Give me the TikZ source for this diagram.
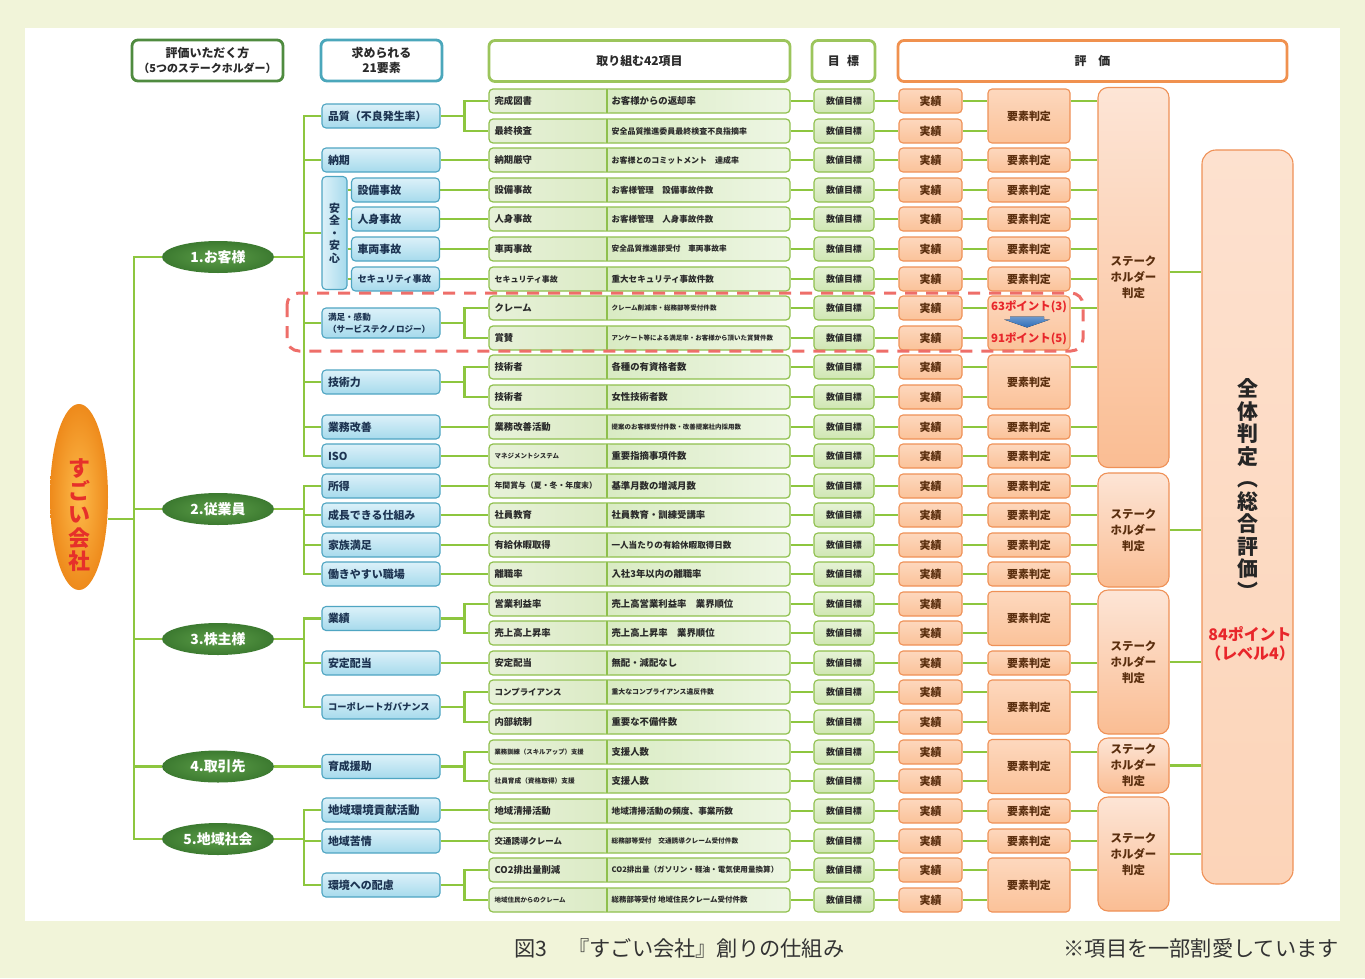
\documentclass[tikz,border=0pt]{standalone}
\usepackage{fontspec}
\setmainfont{Noto Sans CJK JP}
\usetikzlibrary{shapes.geometric,calc}
\pgfdeclarelayer{back}
\pgfdeclarelayer{lines}
\pgfsetlayers{back,lines,main}
\definecolor{lnG}{HTML}{8DC63F}
\definecolor{bgO}{HTML}{F1F4D9}
\definecolor{hdG}{HTML}{4F8B3F}
\definecolor{hdT}{HTML}{4BA7BB}
\definecolor{hdL}{HTML}{9CC55C}
\definecolor{hdO}{HTML}{F0914F}
\definecolor{elB}{HTML}{4FA5C2}
\definecolor{elTop}{HTML}{DCF1F9}
\definecolor{elBot}{HTML}{A6DAEC}
\definecolor{elTx}{HTML}{1D3452}
\definecolor{itB}{HTML}{8FC04D}
\definecolor{itA}{HTML}{E7F1D9}
\definecolor{itD}{HTML}{C9E1A6}
\definecolor{itE}{HTML}{D9EBC3}
\definecolor{itL}{HTML}{EEF6E4}
\definecolor{itTx}{HTML}{2A2A2A}
\definecolor{tgTop}{HTML}{E6F2D6}
\definecolor{tgBot}{HTML}{CFE6B2}
\definecolor{orB}{HTML}{EF9157}
\definecolor{orTop}{HTML}{FDD8BE}
\definecolor{orBot}{HTML}{FBC299}
\definecolor{orTx}{HTML}{5A2E0E}
\definecolor{shTop}{HTML}{FDE5D6}
\definecolor{shBot}{HTML}{FABD93}
\definecolor{totTop}{HTML}{FDE1CF}
\definecolor{totBot}{HTML}{FCD4B8}
\definecolor{stIn}{HTML}{5C9D48}
\definecolor{stOut}{HTML}{3C7A30}
\definecolor{sgIn}{HTML}{FDBA4A}
\definecolor{sgOut}{HTML}{EE8A1B}
\definecolor{sgTx}{HTML}{E6302A}
\definecolor{rdT}{HTML}{E8262B}
\definecolor{dashC}{HTML}{EE6E69}
\definecolor{arrB}{HTML}{2E6DB8}
\definecolor{capTx}{HTML}{333333}
\newcommand\fsz[1]{\fontsize{#1}{#1}\selectfont}
\tikzset{
 conn/.style={draw=lnG, line width=2.5bp},
 hdr/.style={draw, line width=2.8bp, rounded corners=6bp, fill=white, text=itTx, font=\bfseries\fontsize{12}{15}\selectfont, align=center, minimum height=41bp, inner sep=0},
 elbox/.style={draw=elB, line width=1.1bp, rounded corners=4bp, top color=elTop, bottom color=elBot, text=elTx, font=\bfseries\fsz{11}, minimum height=24bp, inner xsep=6bp, inner ysep=0, text width=106bp, align=left},
 itembox/.style={draw=itB, line width=1.2bp, rounded corners=4bp, minimum width=301bp, minimum height=24bp, inner sep=0,
   path picture={
     \shade[left color=itA, right color=itD] (path picture bounding box.north west) rectangle ([xshift=118bp]path picture bounding box.south west);
     \shade[left color=itE, right color=itL] ([xshift=118bp]path picture bounding box.north west) rectangle (path picture bounding box.south east);
     \draw[itB, line width=1.2bp] ([xshift=118bp]path picture bounding box.north west) -- ([xshift=118bp]path picture bounding box.south west);
   }},
 itxt/.style={font=\bfseries\fsz{9.4}, text=itTx, inner sep=0, anchor=west},
 tgbox/.style={draw=itB, line width=1.1bp, rounded corners=4bp, top color=tgTop, bottom color=tgBot, minimum width=60bp, minimum height=24bp, inner sep=0, font=\bfseries\fsz{9}, text=itTx},
 acbox/.style={draw=orB, line width=1.1bp, rounded corners=4bp, top color=orTop, bottom color=orBot, minimum width=63bp, minimum height=24bp, inner sep=0, font=\bfseries\fsz{11}, text=orTx},
 evbox/.style={acbox, minimum width=82bp},
 shbox/.style={draw=orB, line width=1.1bp, rounded corners=10bp, top color=shTop, bottom color=shBot, minimum width=71bp, inner sep=0, font=\bfseries\fontsize{11.5}{16}\selectfont, text=orTx, align=center},
 stk/.style={ellipse, inner color=stIn, outer color=stOut, minimum width=112bp, minimum height=32bp, inner sep=0, text=white, font=\bfseries\fsz{14}},
}
\newcommand\mkrow[4]{%
 \node[itembox] (it#1) at (639.5,#2) {};
 \node[itxt] (itl#1) at ([xshift=6bp]it#1.west) {#3};
 \node[itxt] (itr#1) at ([xshift=123bp]it#1.west) {#4};
 \node[tgbox] (tg#1) at (844,#2) {数値目標};
 \node[acbox] (ac#1) at (930.5,#2) {実績};
 \begin{pgfonlayer}{lines}
 \draw[conn] (it#1.east) -- (tg#1.west);
 \draw[conn] (tg#1.east) -- (ac#1.west);
 \end{pgfonlayer}
}
\begin{document}
\begin{tikzpicture}[x=1bp,y=-1bp]
\useasboundingbox (0,0) rectangle (1365,978);
\begin{pgfonlayer}{back}
\fill[bgO] (0,0) rectangle (1365,978);
\fill[white] (25,28) rectangle (1340,921);
\end{pgfonlayer}

% headers
\node[hdr, draw=hdG, minimum width=151bp] (h1) at (207.5,60.5) {評価いただく方\\{\fsz{11}（5つのステークホルダー）}};
\node[hdr, draw=hdT, minimum width=121bp] (h2) at (381.5,60.5) {求められる\\21要素};
\node[hdr, draw=hdL, minimum width=301bp] (h3) at (639.5,61) {取り組む42項目};
\node[hdr, draw=hdL, minimum width=63bp] (h4) at (843.5,61) {目\hspace{0.6em}標};
\node[hdr, draw=hdO, minimum width=389bp] (h5) at (1092.5,61) {評\hspace{1em}価};

% rows
\mkrow{1}{101}{完成図書}{お客様からの返却率}
\mkrow{2}{131}{最終検査}{\fsz{8}安全品質推進委員最終検査不良指摘率}
\mkrow{3}{160}{納期厳守}{\fsz{8}お客様とのコミットメント　達成率}
\mkrow{4}{190}{設備事故}{\fsz{8.5}お客様管理　設備事故件数}
\mkrow{5}{219}{人身事故}{\fsz{8.5}お客様管理　人身事故件数}
\mkrow{6}{249}{車両事故}{\fsz{7.7}安全品質推進部受付　車両事故率}
\mkrow{7}{279}{\fsz{8}セキュリティ事故}{\fsz{8.6}重大セキュリティ事故件数}
\mkrow{8}{308}{クレーム}{\fsz{6.6}クレーム削減率・総務部等受付件数}
\mkrow{9}{338}{賞賛}{\fsz{6.5}アンケート等による満足率・お客様から頂いた賞賛件数}
\mkrow{10}{367}{技術者}{各種の有資格者数}
\mkrow{11}{397}{技術者}{女性技術者数}
\mkrow{12}{427}{業務改善活動}{\fsz{6.5}提案のお客様受付件数・改善提案社内採用数}
\mkrow{13}{456}{\fsz{6.5}マネジメントシステム}{重要指摘事項件数}
\mkrow{14}{486}{\fsz{7.9}年間賞与（夏・冬・年度末）}{基準月数の増減月数}
\mkrow{15}{515}{社員教育}{社員教育・訓練受講率}
\mkrow{16}{545}{有給休暇取得}{\fsz{8.6}一人当たりの有給休暇取得日数}
\mkrow{17}{574}{離職率}{入社3年以内の離職率}
\mkrow{18}{604}{営業利益率}{売上高営業利益率　業界順位}
\mkrow{19}{633}{売上高上昇率}{売上高上昇率　業界順位}
\mkrow{20}{663}{安定配当}{無配・減配なし}
\mkrow{21}{692}{\fsz{8.5}コンプライアンス}{\fsz{6.9}重大なコンプライアンス違反件数}
\mkrow{22}{722}{内部統制}{重要な不備件数}
\mkrow{23}{752}{\fsz{6.4}業務訓練（スキルアップ）支援}{支援人数}
\mkrow{24}{781}{\fsz{6.7}社員育成（資格取得）支援}{支援人数}
\mkrow{25}{811}{地域清掃活動}{\fsz{8.7}地域清掃活動の頻度、事業所数}
\mkrow{26}{841}{\fsz{8.5}交通誘導クレーム}{\fsz{6.7}総務部等受付　交通誘導クレーム受付件数}
\mkrow{27}{870}{CO2排出量削減}{\fsz{7.6}CO2排出量（ガソリン・軽油・電気使用量換算）}
\mkrow{28}{900}{\fsz{6.5}地域住民からのクレーム}{\fsz{7.5}総務部等受付 地域住民クレーム受付件数}

% element judgement boxes
\node[evbox, minimum height=54bp] (ev1) at (1029,116) {要素判定};
\node[evbox] (ev3) at (1029,160) {要素判定};
\node[evbox] (ev4) at (1029,190) {要素判定};
\node[evbox] (ev5) at (1029,219) {要素判定};
\node[evbox] (ev6) at (1029,249) {要素判定};
\node[evbox] (ev7) at (1029,279) {要素判定};
\node[evbox, minimum height=54bp] (ev8) at (1029,323) {};
\node[text=rdT, font=\bfseries\fsz{11.5}, inner sep=0] (p63) at (1029,307) {63ポイント(3)};
\node[text=rdT, font=\bfseries\fsz{11.5}, inner sep=0] (p91) at (1029,339) {91ポイント(5)};
\fill[top color=arrB!70!white, bottom color=arrB] (1010,316.5) -- (1044,316.5) -- (1044,319.5) -- (1050,319.5) -- (1027,327.5) -- (1004,319.5) -- (1010,319.5) -- cycle;
\node[evbox, minimum height=54bp] (ev10) at (1029,382) {要素判定};
\node[evbox] (ev12) at (1029,427) {要素判定};
\node[evbox] (ev13) at (1029,456) {要素判定};
\node[evbox] (ev14) at (1029,486) {要素判定};
\node[evbox] (ev15) at (1029,515) {要素判定};
\node[evbox] (ev16) at (1029,545) {要素判定};
\node[evbox] (ev17) at (1029,574) {要素判定};
\node[evbox, minimum height=54bp] (ev18) at (1029,618.5) {要素判定};
\node[evbox] (ev20) at (1029,663) {要素判定};
\node[evbox, minimum height=54bp] (ev21) at (1029,707) {要素判定};
\node[evbox, minimum height=54bp] (ev23) at (1029,766.5) {要素判定};
\node[evbox] (ev25) at (1029,811) {要素判定};
\node[evbox] (ev26) at (1029,841) {要素判定};
\node[evbox, minimum height=54bp] (ev27) at (1029,885) {要素判定};

% stakeholder judgement boxes
\node[shbox, minimum height=380bp] (sh1) at (1133.5,277.5) {ステーク\\ホルダー\\判定};
\node[shbox, minimum height=114bp] (sh2) at (1133.5,530) {ステーク\\ホルダー\\判定};
\node[shbox, minimum height=144bp] (sh3) at (1133.5,662) {ステーク\\ホルダー\\判定};
\node[shbox, minimum height=55bp] (sh4) at (1133.5,765.5) {ステーク\\ホルダー\\判定};
\node[shbox, minimum height=114bp] (sh5) at (1133.5,854) {ステーク\\ホルダー\\判定};

% total
\node[draw=orB, line width=1.1bp, rounded corners=14bp, top color=totTop, bottom color=totBot, minimum width=91bp, minimum height=734bp, inner sep=0] (tot) at (1247.5,517) {};
\node[text=black!85, font=\bfseries\fontsize{21}{22.6}\selectfont, align=center, inner sep=0] (totT) at (1248,489) {全\\体\\判\\定\\︵\\総\\合\\評\\価\\︶};
\node[text=rdT, font=\bfseries\fontsize{16}{19}\selectfont, align=center, inner sep=0] (totP) at (1250,644) {84ポイント\\（レベル4）};

% elements
\node[elbox] (el1) at (381,116) {品質（不良発生率）};
\node[elbox] (el2) at (381,160) {納期};
\node[draw=elB, line width=1.1bp, rounded corners=4bp, left color=elTop, right color=elBot, text=elTx, font=\bfseries\fontsize{11}{12.6}\selectfont, minimum width=25bp, minimum height=113bp, inner sep=0, align=center] (elS) at (334.5,233) {安\\全\\・\\安\\心};
\node[elbox, text width=76bp, inner xsep=6bp] (el3) at (395.5,190) {設備事故};
\node[elbox, text width=76bp, inner xsep=6bp] (el4) at (395.5,219) {人身事故};
\node[elbox, text width=76bp, inner xsep=6bp] (el5) at (395.5,249) {車両事故};
\node[elbox, text width=76bp, inner xsep=6bp, font=\bfseries\fsz{9.3}] (el6) at (395.5,279) {セキュリティ事故};
\node[elbox, minimum height=30bp, font=\bfseries\fontsize{8.6}{12.5}\selectfont] (el7) at (381,323) {満足・感動\\（サービステクノロジー）};
\node[elbox] (el8) at (381,382) {技術力};
\node[elbox] (el9) at (381,427) {業務改善};
\node[elbox] (el10) at (381,456) {ISO};
\node[elbox] (el11) at (381,486) {所得};
\node[elbox] (el12) at (381,515) {成長できる仕組み};
\node[elbox] (el13) at (381,545) {家族満足};
\node[elbox] (el14) at (381,574) {働きやすい職場};
\node[elbox] (el15) at (381,618.5) {業績};
\node[elbox] (el16) at (381,663) {安定配当};
\node[elbox, font=\bfseries\fsz{9.3}] (el17) at (381,707) {コーポレートガバナンス};
\node[elbox] (el18) at (381,766.5) {育成援助};
\node[elbox, font=\bfseries\fsz{11.5}] (el19) at (381,810) {地域環境貢献活動};
\node[elbox] (el20) at (381,841) {地域苦情};
\node[elbox] (el21) at (381,885) {環境への配慮};

% stakeholders
\node[stk] (st1) at (218,257) {1.お客様};
\node[stk] (st2) at (218,509) {2.従業員};
\node[stk] (st3) at (218,639) {3.株主様};
\node[stk] (st4) at (218,766.5) {4.取引先};
\node[stk] (st5) at (218,839) {5.地域社会};

% company
\node[ellipse, inner color=sgIn, outer color=sgOut, minimum width=58bp, minimum height=186bp, inner sep=0] (sg) at (79,497) {};
\node[text=sgTx, font=\bfseries\fontsize{22}{23.5}\selectfont, align=center, inner sep=0] (sgT) at (79,515) {す\\ご\\い\\会\\社};

% caption
\node[anchor=west, text=capTx, font=\fsz{21.3}, inner sep=0] (cap1) at (514,948) {図3　『すごい会社』創りの仕組み};
\node[anchor=east, text=capTx, font=\fsz{21.3}, inner sep=0] (cap2) at (1339,948) {※項目を一部割愛しています};

\begin{pgfonlayer}{lines}
% company to stakeholders
\coordinate (lt) at (134,519);
\draw[conn] (sg.east |- lt) -- (lt);
\draw[conn] (st1.west) -| (lt);
\draw[conn] (st5.west) -| (lt);
\foreach \s in {st2,st3,st4} \draw[conn] (\s.west) -- (\s.west -| lt);
% stakeholders to elements
\coordinate (t1) at (304,257);
\draw[conn] (st1.east) -- (t1);
\draw[conn] (el1.west) -| (t1);
\draw[conn] (el10.west) -| (t1);
\foreach \e in {el2,elS,el7,el8,el9} \draw[conn] (\e.west) -- (\e.west -| t1);
\coordinate (t2) at (304,509);
\draw[conn] (st2.east) -- (t2);
\draw[conn] (el11.west) -| (t2);
\draw[conn] (el14.west) -| (t2);
\foreach \e in {el12,el13} \draw[conn] (\e.west) -- (\e.west -| t2);
\coordinate (t3) at (304,639);
\draw[conn] (st3.east) -- (t3);
\draw[conn] (el15.west) -| (t3);
\draw[conn] (el17.west) -| (t3);
\draw[conn] (el16.west) -- (el16.west -| t3);
\draw[conn] (st4.east) -- (el18.west);
\coordinate (t5) at (304,839);
\draw[conn] (st5.east) -- (t5);
\draw[conn] (el19.west) -| (t5);
\draw[conn] (el21.west) -| (t5);
\draw[conn] (el20.west) -- (el20.west -| t5);
\foreach \e in {el3,el4,el5,el6} \draw[conn, line width=2bp] (\e.west -| elS.east) -- (\e.west);
% elements to items
\foreach \e/\i in {el2/3,el3/4,el4/5,el5/6,el6/7,el9/12,el10/13,el11/14,el12/15,el13/16,el14/17,el16/20,el19/25,el20/26}
  \draw[conn] (\e.east) -- (\e.east -| it\i.west);
\foreach \e/\a/\b in {el1/1/2,el7/8/9,el8/10/11,el15/18/19,el17/21/22,el18/23/24,el21/27/28} {
  \draw[conn] (\e.east) -- ++(24,0) coordinate (k\a);
  \draw[conn] (it\a.west) -| (k\a) |- (it\b.west);
}
% results to element judgement
\foreach \r/\e in {1/1,2/1,3/3,4/4,5/5,6/6,7/7,8/8,9/8,10/10,11/10,12/12,13/13,14/14,15/15,16/16,17/17,18/18,19/18,20/20,21/21,22/21,23/23,24/23,25/25,26/26,27/27,28/27}
  \draw[conn] (ac\r.east) -- (ac\r.east -| ev\e.west);
\foreach \e/\s in {1/1,3/1,4/1,5/1,6/1,7/1,8/1,10/1,12/1,13/1,14/2,15/2,16/2,17/2,18/3,20/3,21/3,23/4,25/5,26/5,27/5}
  \draw[conn] (ac\e.east -| ev\e.east) -- (ac\e.east -| sh\s.west);
\coordinate (s1o) at (1169,272);
\draw[conn] (s1o -| sh1.east) -- (s1o -| tot.west);
\foreach \s in {2,3,4,5} \draw[conn] (sh\s.east) -- (sh\s.east -| tot.west);
\end{pgfonlayer}

% red dashed frame
\draw[dashC, line width=3bp, dash pattern=on 12bp off 9bp, rounded corners=12bp] (287,293) rectangle (1083,351);
\end{tikzpicture}
\end{document}
